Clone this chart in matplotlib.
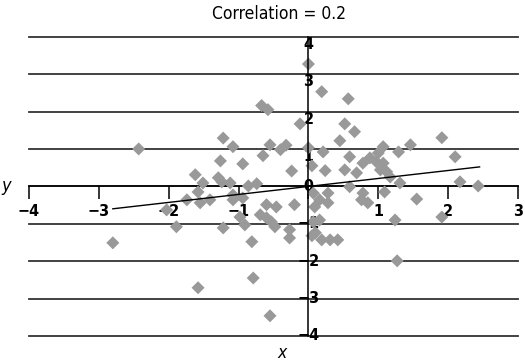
import matplotlib
matplotlib.use("Agg")
import matplotlib.pyplot as plt

# scatter values
xs = [0.00, 0.19, 0.57, -0.67, -0.58, -0.12, 0.52, 0.66, 0.45, -2.43,
      -1.22, -1.08, -0.32, -0.40, -0.65, 0.00, 0.21, 0.59, 1.07, 1.00,
      1.29, 1.46, 1.91, 2.10, -1.26, -0.94, -0.24, 0.05, 0.24, 0.52,
      0.69, 0.78, 0.88, 0.97, 1.07, 1.03, 1.12, 1.17, 1.31, 2.17,
      2.43, -1.62, -1.51, -1.29, -1.24, -1.12, -0.86, -0.74, -1.74, -1.58,
      -1.55, -1.41, -1.08, -0.94, -0.60, -0.46, -0.20, 0.07, 0.28, 0.16,
      0.09, 0.28, 0.59, 0.78, 0.76, 0.85, 1.09, 1.55, -2.03, -1.89,
      -0.98, -0.69, -0.60, -1.22, -0.91, -0.48, -0.27, 0.16, 1.24, 1.91,
      -0.53, 0.07, 0.10, 0.19, 0.31, 0.42, -0.81, -0.27, -2.80, 0.05,
      1.27, -0.79, -1.58, -0.55, -1.08, -0.55]
ys = [3.27, 2.53, 2.34, 2.16, 2.05, 1.67, 1.67, 1.46, 1.22, 1.00,
      1.29, 1.06, 1.10, 0.98, 0.82, 1.03, 0.92, 0.79, 1.06, 0.89,
      0.92, 1.11, 1.30, 0.79, 0.68, 0.60, 0.41, 0.55, 0.42, 0.44,
      0.36, 0.62, 0.76, 0.66, 0.62, 0.44, 0.39, 0.25, 0.09, 0.12,
      0.01, 0.31, 0.09, 0.23, 0.12, 0.09, 0.01, 0.07, -0.36, -0.15,
      -0.44, -0.36, -0.23, -0.31, -0.49, -0.55, -0.49, -0.18, -0.18, -0.36,
      -0.55, -0.44, -0.01, -0.18, -0.36, -0.44, -0.15, -0.34, -0.63, -1.08,
      -0.82, -0.76, -0.84, -1.11, -1.03, -1.08, -1.16, -0.90, -0.90, -0.82,
      -0.95, -0.95, -1.24, -1.43, -1.43, -1.43, -1.48, -1.38, -1.51, -1.32,
      -1.99, -2.45, -2.71, -3.46, -0.36, 1.11]

# trend line end points
line_x = [-2.8, 2.45]
line_y = [-0.60, 0.52]

# the origin "0" is carried by the y axis only
x_ticks = [-4, -3, -2, -1, 0, 1, 2, 3]
x_labels = ["\u22124", "\u22123", "\u22122", "\u22121", "", "1", "2", "3"]
y_ticks = [-4, -3, -2, -1, 0, 1, 2, 3, 4]
y_labels = ["\u22124", "\u22123", "\u22122", "\u22121", "0", "1", "2", "3", "4"]

plt.rcParams["font.family"] = ["DejaVu Sans"]
plt.rcParams["font.stretch"] = "condensed"

fig = plt.figure(figsize=(5.25, 3.62), dpi=100)
ax = fig.add_axes([29 / 525, 26 / 362, 489 / 525, 299.3 / 362])

for yv in y_ticks:
    ax.axhline(yv, color="#333333", linewidth=1.3, clip_on=False, zorder=1)

ax.scatter(xs, ys, marker="D", s=44, color="#999999", edgecolors="none", zorder=3)
ax.plot(line_x, line_y, color="black", linewidth=1.0, zorder=4)

ax.set_xlim(-4, 3)
ax.set_ylim(-4, 4)

ax.spines[["top", "right"]].set_visible(False)
ax.spines["left"].set_position("zero")
ax.spines["bottom"].set_position("zero")
ax.spines["left"].set_linewidth(1.1)
ax.spines["bottom"].set_linewidth(1.1)
ax.spines["left"].set_zorder(5)

ax.set_xticks(x_ticks)
ax.set_xticklabels(x_labels)
ax.set_yticks(y_ticks)
ax.set_yticklabels(y_labels)
ax.tick_params(axis="x", direction="out", length=9, width=1.1, pad=4,
               labelsize=11.5)
ax.tick_params(axis="y", length=0, pad=0, labelsize=11.5)
# positive labels hang below their grid line, zero and negatives sit on it
for lab, yv in zip(ax.get_yticklabels(), y_ticks):
    lab.set_ha("center")
    lab.set_va("top" if yv > 0 else "center")
    lab.set_fontweight("bold")
for lab in ax.get_xticklabels():
    lab.set_fontweight("bold")

ax.set_xlabel("x", fontsize=12.5, style="italic")
ax.xaxis.set_label_coords(0.517, -0.028)
ax.set_ylabel("y", fontsize=13, style="italic", rotation=0, ha="center", va="center")
ax.yaxis.set_label_coords(-0.047, 0.5)

ax.set_title("Correlation = 0.2", fontsize=12.5, x=0.511, pad=13)

fig.savefig("out.png", dpi=100)
